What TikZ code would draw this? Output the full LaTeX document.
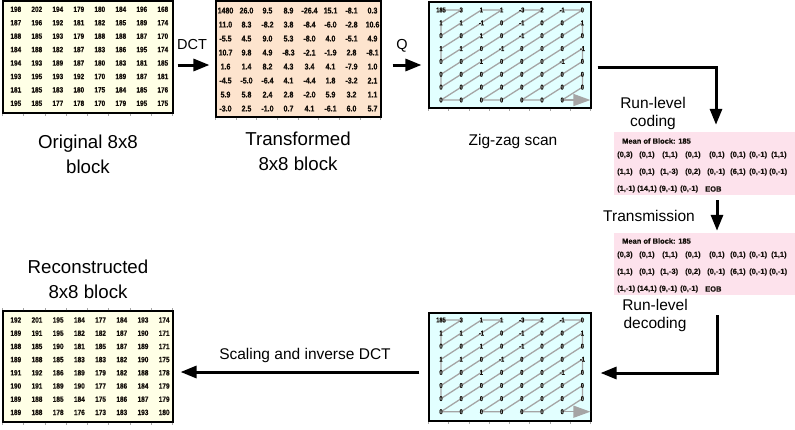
\documentclass[tikz,border=0pt]{standalone}
\usepackage{fontspec}
\setmainfont{Liberation Sans}
\newfontfamily\numfont[FakeStretch=0.85,FakeBold=0.6]{Liberation Sans}
\newfontfamily\zzfont[FakeStretch=0.82,FakeBold=0.6]{Liberation Sans}
\newfontfamily\rlfont[FakeBold=0.4]{Liberation Sans}
\usetikzlibrary{arrows.meta}

\definecolor{yelbg}{RGB}{255,255,230}
\definecolor{peachbg}{RGB}{253,228,206}
\definecolor{cyanbg}{RGB}{226,255,255}
\definecolor{pinkbg}{RGB}{253,226,236}
\definecolor{zzline}{RGB}{165,165,165}
\definecolor{numcol}{RGB}{20,15,10}

\tikzset{
 big/.style={font=\fontsize{18.7}{25}\selectfont, align=center, inner sep=0},
 mid/.style={font=\fontsize{15.5}{18}\selectfont, align=center, inner sep=0},
 lbl/.style={font=\fontsize{14.5}{17}\selectfont, inner sep=0},
 onum/.style={font=\numfont\bfseries\fontsize{7.6}{8}\selectfont, text=numcol, inner sep=0},
 tnum/.style={font=\numfont\bfseries\fontsize{8.3}{9}\selectfont, text=numcol, inner sep=0},
 znum/.style={font=\zzfont\bfseries\fontsize{7}{7}\selectfont, text=numcol, inner sep=0},
 rltxt/.style={font=\rlfont\bfseries\fontsize{7.5}{9}\selectfont, text=numcol, inner sep=0, anchor=west},
 matbox/.style={draw=black, line width=1.1, inner sep=0},
 flow/.style={line width=3, -{Triangle[length=16pt,width=12pt]}},
 zz/.style={draw=zzline, line width=1.3},
 tickmark/.style={draw=gray!70, line width=0.6}
}

\newcommand\zzcontents[1]{%
 \draw[zz] (#1-0-0) -- (#1-0-1) -- (#1-1-0) -- (#1-2-0) -- (#1-0-2) -- (#1-0-3) -- (#1-3-0) -- (#1-4-0) -- (#1-0-4) -- (#1-0-5) -- (#1-5-0) -- (#1-6-0) -- (#1-0-6) -- (#1-0-7) -- (#1-7-0) -- (#1-7-1) -- (#1-1-7) -- (#1-2-7) -- (#1-7-2) -- (#1-7-3) -- (#1-3-7) -- (#1-4-7) -- (#1-7-4) -- (#1-7-5) -- (#1-5-7) -- (#1-6-7) -- (#1-7-6);
 \draw[zz, -{Triangle[length=17pt,width=12pt]}] (#1-7-6) -- ([xshift=8]#1-7-7);
 \foreach \row [count=\r from 0] in {{185,3,1,1,-3,2,-1,0},{1,1,-1,0,-1,0,0,1},{0,0,1,0,-1,0,0,0},{1,1,0,-1,0,0,0,-1},{0,0,1,0,0,0,-1,0},{0,0,0,0,0,0,0,0},{0,0,0,0,0,0,0,0},{0,0,0,0,0,0,0}}
   {\foreach \v [count=\c from 0] in \row
     {\node[znum] (#1n-\r-\c) at (#1-\r-\c) {\v};}}
}

\newcommand\rlcontents[2]{%
 \node[rltxt] (#1-mean) at (622,#2) {Mean of Block: 185};
 \foreach \x/\t [count=\k] in {617/{(0,3)},639/{(0,1)},662/{(1,1)},685/{(0,1)},709/{(0,1)},730/{(0,1)},749/{(0,-1)},771/{(1,1)}}
   {\node[rltxt] (#1-a\k) at (\x,#2+14) {\t};}
 \foreach \x/\t [count=\k] in {617/{(1,1)},639/{(0,1)},660/{(1,-3)},685/{(0,2)},707/{(0,-1)},730/{(6,1)},749/{(0,-1)},769/{(0,-1)}}
   {\node[rltxt] (#1-b\k) at (\x,#2+31) {\t};}
 \foreach \x/\t [count=\k] in {617/{(1,-1)},637/{(14,1)},659/{(9,-1)},680/{(0,-1)},705/{EOB}}
   {\node[rltxt] (#1-c\k) at (\x,#2+48) {\t};}
}

\begin{document}
\begin{tikzpicture}[x=1pt,y=-1pt]
\useasboundingbox (0,0) rectangle (795,429);
\fill[white] (0,0) rectangle (795,429);

% boxes
\node[matbox, fill=yelbg, minimum width=170, minimum height=112] (obox) at (88,57) {};
\node[matbox, fill=peachbg, minimum width=165, minimum height=116] (tbox) at (298.5,59) {};
\node[matbox, fill=cyanbg, minimum width=162, minimum height=106] (zbox) at (510,55) {};
\node[fill=pinkbg, inner sep=0, minimum width=181, minimum height=63] (rl1) at (704.5,163.5) {};
\node[fill=pinkbg, inner sep=0, minimum width=181, minimum height=62] (rl2) at (704.5,264) {};
\node[matbox, fill=cyanbg, minimum width=162, minimum height=108] (zbox2) at (510,367) {};
\node[matbox, fill=yelbg, minimum width=170, minimum height=111] (recbox) at (88,366.5) {};

% ticks
\foreach \k in {0,...,8} {
 \draw[tickmark] ([xshift=\k*21.25]obox.south west) -- ++(0,2.5);
 \draw[tickmark] ([xshift=\k*20.625]tbox.south west) -- ++(0,2.5);
 \draw[tickmark] ([xshift=\k*20.25]zbox.south west) -- ++(0,2.5);
 \draw[tickmark] ([xshift=\k*20.25]zbox2.south west) -- ++(0,2.5);
 \draw[tickmark] ([xshift=\k*21.25]recbox.south west) -- ++(0,2.5);
 \draw[tickmark] ([xshift=\k*21.25]recbox.north west) -- ++(0,-2.5);
}

% original matrix
\foreach \row [count=\r from 0] in {{198,202,194,179,180,184,196,168},{187,196,192,181,182,185,189,174},{188,185,193,179,188,188,187,170},{184,188,182,187,183,186,195,174},{194,193,189,187,180,183,181,185},{193,195,193,192,170,189,187,181},{181,185,183,180,175,184,185,176},{195,185,177,178,170,179,195,175}}
 {\foreach \v [count=\c from 0] in \row
   {\node[onum] (o-\r-\c) at ({15.8+21*\c},{9.3+13.43*\r}) {\v};}}

% transformed matrix
\foreach \row [count=\r from 0] in {{1480,26.0,9.5,8.9,-26.4,15.1,-8.1,0.3},{11.0,8.3,-8.2,3.8,-8.4,-6.0,-2.8,10.6},{-5.5,4.5,9.0,5.3,-8.0,4.0,-5.1,4.9},{10.7,9.8,4.9,-8.3,-2.1,-1.9,2.8,-8.1},{1.6,1.4,8.2,4.3,3.4,4.1,-7.9,1.0},{-4.5,-5.0,-6.4,4.1,-4.4,1.8,-3.2,2.1},{5.9,5.8,2.4,2.8,-2.0,5.9,3.2,1.1},{-3.0,2.5,-1.0,0.7,4.1,-6.1,6.0,5.7}}
 {\foreach \v [count=\c from 0] in \row
   {\node[tnum] (t-\r-\c) at ({225.5+21*\c},{10.6+14*\r}) {\v};}}

% reconstructed matrix
\foreach \row [count=\r from 0] in {{192,201,195,184,177,184,193,174},{189,191,195,182,182,187,190,171},{188,185,190,181,185,187,189,171},{189,188,185,183,183,182,190,175},{191,192,186,189,179,182,188,178},{190,191,189,190,177,186,184,179},{189,188,185,184,175,186,187,179},{189,188,178,176,173,183,193,180}}
 {\foreach \v [count=\c from 0] in \row
   {\node[onum] (r-\r-\c) at ({15.8+21.2*\c},{320+13.2*\r}) {\v};}}

% zig-zag coordinates
\foreach \r in {0,...,7} {\foreach \c in {0,...,7} {
  \coordinate (ZA-\r-\c) at ({441+20.2*\c},{10+12.86*\r});
  \coordinate (ZB-\r-\c) at ({441+20.2*\c},{320+13.1*\r});
}}
\zzcontents{ZA}
\zzcontents{ZB}

% run-level boxes
\rlcontents{rla}{141}
\rlcontents{rlb}{241}

% labels
\node[big] (lorig) at (88,154) {Original 8x8\\block};
\node[big] (ltrans) at (298,151.5) {Transformed\\8x8 block};
\node[mid] (lzz) at (513,141) {Zig-zag scan};
\node[big] (lrec) at (88,279) {Reconstructed\\8x8 block};
\node[lbl] (ldct) at (192,45) {DCT};
\node[lbl] (lq) at (402,46) {Q};
\node[mid] (lrlc) at (653,113.5) {Run-level\\coding};
\node[mid] (ltx) at (649,216) {Transmission};
\node[mid] (lrld) at (655,315) {Run-level\\decoding};
\node[mid] (lsc) at (305,355) {Scaling and inverse DCT};

% arrows
\draw[flow] ([shift={(4,8)}]obox.east) -- ([shift={(-6,6)}]tbox.west);
\draw[flow] ([shift={(11,6)}]tbox.east) -- ([shift={(-7,10)}]zbox.west);
\draw[flow] ([shift={(6,12)}]zbox.east) -| ([shift={(11.5,-7)}]rl1.north);
\draw[flow] ([shift={(12.5,5)}]rl1.south) -- ([shift={(12.5,-2)}]rl2.north);
\draw[flow] ([shift={(13,20)}]rl2.south) |- ([shift={(9,6)}]zbox2.east);
\draw[flow] ([shift={(-9,5)}]zbox2.west) -- ([shift={(7,5.5)}]recbox.east);
\end{tikzpicture}
\end{document}
